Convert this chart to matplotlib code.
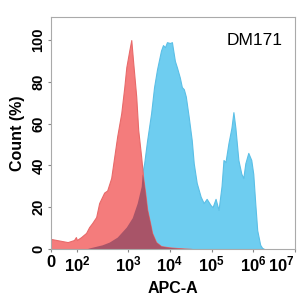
import numpy as np
import matplotlib
matplotlib.use('Agg')
import matplotlib.pyplot as plt

plt.rcParams['font.family'] = 'Liberation Sans'
plt.rcParams['mathtext.fontset'] = 'custom'
plt.rcParams['mathtext.rm'] = 'Liberation Sans:bold'
plt.rcParams['mathtext.bf'] = 'Liberation Sans:bold'

# isotype control (red)
red_x = [0, 19, 58, 81, 96, 120, 150, 172, 197, 236, 270, 338, 387, 464, 531, 608,
         729, 836, 915, 1057, 1179, 1315, 1550, 1730, 2042, 2277, 2541, 2833, 3340,
         3727, 4642, 6109, 9460, 16400, 33400]
red_y = [4.8, 3.3, 4.3, 5.7, 4.3, 5.7, 7.7, 10.5, 12.4, 15.3, 22, 27, 28, 34, 44, 54,
         65, 77.5, 87, 95, 100, 89, 73, 57, 44, 34, 27, 19, 12.4,
         7.7, 3.3, 1.4, 0.8, 0.4, 0]

# DM171 stained (blue)
blue_x = [172, 309, 424, 608, 915, 1245, 1638, 2042, 2154, 2404, 2833, 3532, 4160,
          4900, 6109, 6813, 7600, 8480, 10000, 11160, 11780, 13150, 14680, 17300,
          19310, 21540, 24040, 28330, 33400, 37270, 43940, 54710, 64550, 76040,
          94640, 105600, 124500, 146800, 173000, 193100, 215400, 254100, 299400,
          334000, 372800, 439400, 517600, 577800, 645400, 760300, 896000, 1000000,
          1116000, 1245000, 1468000, 1638000, 1827000]
blue_y = [0.5, 2, 3.3, 5.7, 10.5, 15, 22, 30, 36, 41, 52, 65, 77.5,
          86, 95, 97.6, 96.6, 99, 98.6, 99, 96, 90, 87, 82,
          77.5, 76.5, 73, 63, 52, 41, 31.6, 25, 22, 24,
          21, 20, 24, 18.7, 30, 42.6, 41.6, 50.7, 58,
          65.5, 58, 42.6, 36, 34, 41, 46, 42.6, 36,
          22, 9, 2, 0.5, 0]

x_ticks = [0, 1e2, 1e3, 1e4, 1e5, 1e6, 1e7]
x_labels = ['0', r'$\mathbf{10^2}$', r'$\mathbf{10^3}$', r'$\mathbf{10^4}$',
            r'$\mathbf{10^5}$', r'$\mathbf{10^6}$', r'$\mathbf{10^7}$']
y_ticks = [0, 20, 40, 60, 80, 100]

# biexponential-like display scale
dec_pts = [0, 2, 3, 7]
pos_pts = [0, 26, 77, 243]


def fwd(x):
    x = np.asarray(x, dtype=float)
    return np.interp(np.log10(np.maximum(x, 1)), dec_pts, pos_pts)


def inv(p):
    return 10 ** np.interp(np.asarray(p, dtype=float), pos_pts, dec_pts)


fig = plt.figure(figsize=(3, 3), dpi=100)
ax = fig.add_axes([0.17, 0.17, 0.813, 0.773])
ax.set_xscale('function', functions=(fwd, inv))

ax.fill_between(blue_x, blue_y, color='#6ecdf0', lw=0.8, edgecolor='#5bbfe6')
ax.fill_between(red_x, red_y, color='#f47c7c', lw=0.8, edgecolor='#e86a6a')

# overlap region
grid = np.union1d(fwd(red_x), fwd(blue_x))
r_i = np.interp(grid, fwd(red_x), red_y, left=0, right=0)
b_i = np.interp(grid, fwd(blue_x), blue_y, left=0, right=0)
ax.fill_between(inv(grid), np.minimum(r_i, b_i), color='#a85468', lw=0)

ax.set_xlim(0, 1e7)
ax.set_ylim(0, 111)
ax.set_xticks(x_ticks)
ax.set_xticklabels(x_labels)
ax.set_yticks(y_ticks)
ax.set_yticklabels([str(v) for v in y_ticks], rotation=90, va='center')
ax.minorticks_off()
ax.tick_params(axis='y', labelsize=10.5, length=2, color='#888888', pad=2)
ax.tick_params(axis='x', labelsize=12, length=2, color='#888888', pad=2)
for lab in ax.get_xticklabels() + ax.get_yticklabels():
    lab.set_fontweight('bold')
ax.get_xticklabels()[-1].set_ha('right')
for s in ax.spines.values():
    s.set_color('#aaaaaa')
    s.set_linewidth(0.8)

ax.set_xlabel('APC-A', fontsize=11.5, fontweight='bold', labelpad=5)
ax.set_ylabel('Count (%)', fontsize=11.5, fontweight='bold', labelpad=5)
ax.text(0.95, 0.9, 'DM171', transform=ax.transAxes, ha='right', va='center',
        fontsize=12.5)

fig.savefig('out.png', dpi=100)
